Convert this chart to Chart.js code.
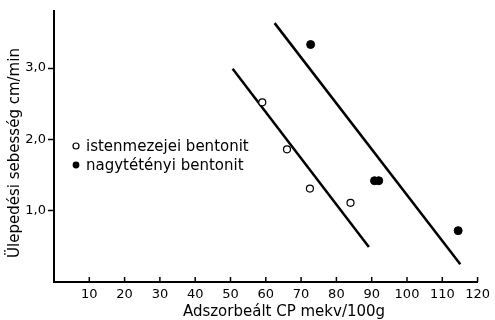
<!DOCTYPE html>
<html>
<head>
  <script src="https://cdn.jsdelivr.net/npm/chart.js"></script>
  <style>
    body { margin: 0; background: white; }
    #wrap { width: 495px; height: 320px; }
  </style>
</head>
<body>
  <div id="wrap"><canvas id="chart"></canvas></div>
  <script>
    // istenmezejei bentonit (open circles)
    const istenX = [59, 66, 72.5, 84];
    const istenY = [2.52, 1.86, 1.31, 1.11];
    // nagytétényi bentonit (filled circles)
    const nagyX = [72.7, 90.8, 92, 114.5];
    const nagyY = [3.33, 1.42, 1.42, 0.72];
    // fitted lines, end points
    const line1X = [50.6, 89.2];
    const line1Y = [2.99, 0.49];
    const line2X = [62.5, 115.1];
    const line2Y = [3.63, 0.25];

    const xTicks = [10, 20, 30, 40, 50, 60, 70, 80, 90, 100, 110, 120];
    const yTicks = [1, 2, 3];
    const legendLabels = ["istenmezejei bentonit", "nagytétényi bentonit"];
    const xTitle = "Adszorbeált CP mekv/100g";
    const yTitle = "Ülepedési sebesség cm/min";

    const font = "'DejaVu Sans'";
    const toPts = (xs, ys) => xs.map((x, i) => ({ x: x, y: ys[i] }));

    // inward x tick marks, legend and axis titles
    const extras = {
      id: "extras",
      afterDraw(c) {
        const ctx = c.ctx;
        const xs = c.scales.x, ys = c.scales.y;
        ctx.save();
        ctx.strokeStyle = "#000";
        ctx.lineWidth = 1.5;
        const yb = ys.getPixelForValue(0);
        xTicks.forEach(v => {
          const px = xs.getPixelForValue(v);
          ctx.beginPath();
          ctx.moveTo(px, yb);
          ctx.lineTo(px, yb - 5);
          ctx.stroke();
        });
        // legend
        ctx.font = "15px " + font;
        ctx.fillStyle = "#000";
        ctx.textBaseline = "middle";
        const lx = 76, rows = [146, 165];
        rows.forEach((ry, i) => {
          ctx.beginPath();
          ctx.arc(lx, ry, i === 0 ? 3 : 3.4, 0, Math.PI * 2);
          if (i === 0) { ctx.lineWidth = 1.2; ctx.stroke(); }
          else ctx.fill();
          ctx.fillText(legendLabels[i], 86, ry + 1);
        });
        // axis titles
        ctx.textAlign = "center";
        ctx.fillText(xTitle, 284, 312);
        ctx.translate(15, 153);
        ctx.rotate(-Math.PI / 2);
        ctx.fillText(yTitle, 0, 0);
        ctx.restore();
      }
    };

    new Chart(document.getElementById("chart"), {
      type: "scatter",
      data: {
        datasets: [
          {
            label: legendLabels[0],
            data: toPts(istenX, istenY),
            pointRadius: 3.5,
            pointBorderWidth: 1.2,
            pointBackgroundColor: "#fff",
            pointBorderColor: "#000"
          },
          {
            label: legendLabels[1],
            data: toPts(nagyX, nagyY),
            pointRadius: 4,
            pointBackgroundColor: "#000",
            pointBorderColor: "#000"
          },
          {
            type: "line",
            data: toPts(line1X, line1Y),
            borderColor: "#000",
            borderWidth: 2.5,
            pointRadius: 0,
            showLine: true
          },
          {
            type: "line",
            data: toPts(line2X, line2Y),
            borderColor: "#000",
            borderWidth: 2.5,
            pointRadius: 0,
            showLine: true
          }
        ]
      },
      options: {
        responsive: true,
        maintainAspectRatio: false,
        animation: false,
        layout: { padding: { top: 11, right: 11, left: 0, bottom: 0 } },
        plugins: {
          legend: { display: false },
          tooltip: { enabled: false }
        },
        scales: {
          x: {
            type: "linear",
            min: 0,
            max: 120,
            afterBuildTicks: s => { s.ticks = xTicks.map(v => ({ value: v })); },
            afterFit: s => { s.height = 38; },
            grid: { display: false, drawTicks: false },
            border: { display: true, color: "#000", width: 2 },
            ticks: {
              color: "#000",
              padding: 5,
              maxRotation: 0,
              font: { family: font, size: 13 }
            }
          },
          y: {
            type: "linear",
            min: 0,
            max: 3.8,
            afterBuildTicks: s => { s.ticks = yTicks.map(v => ({ value: v })); },
            afterFit: s => { s.width = 54; },
            grid: { drawOnChartArea: false, tickLength: 6, color: "#000", tickWidth: 1.5 },
            border: { display: true, color: "#000", width: 2 },
            ticks: {
              color: "#000",
              padding: 2,
              font: { family: font, size: 13 },
              callback: v => v.toFixed(1).replace(".", ",")
            }
          }
        }
      },
      plugins: [extras]
    });
  </script>
</body>
</html>
